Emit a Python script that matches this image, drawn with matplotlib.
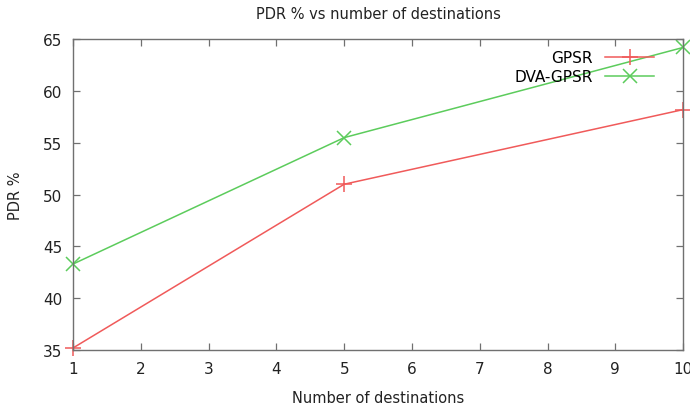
import matplotlib

matplotlib.use("Agg")
import matplotlib.pyplot as plt  # noqa: E402

# values
destinations = [1, 5, 10]
gpsr = [35.2, 51.0, 58.2]
dva_gpsr = [43.3, 55.5, 64.2]
x_ticks = list(range(1, 11))
y_ticks = [35, 40, 45, 50, 55, 60, 65]

plt.rcParams["font.family"] = ["DejaVu Sans"]

fig = plt.figure(figsize=(6.9, 4.1), dpi=100)
ax = fig.add_axes([0.106, 0.144, 0.884, 0.758])

ax.plot(destinations, gpsr, color="#f05a5a", lw=1.1, marker="+", ms=12,
        mew=1.1, label="GPSR", clip_on=False)
ax.plot(destinations, dva_gpsr, color="#5ccc5c", lw=1.1, marker="x", ms=10,
        mew=1.1, label="DVA-GPSR", clip_on=False)

ax.set_xlim(1, 10)
ax.set_ylim(35, 65)
ax.set_xticks(x_ticks)
ax.set_yticks(y_ticks)
ax.tick_params(direction="in", length=5, width=0.9, color="#707070",
               top=True, right=True, labelsize=11, labelcolor="#222222", pad=8)
for s in ax.spines.values():
    s.set_color("#707070")
    s.set_linewidth(1.0)

ax.set_xlabel("Number of destinations", fontsize=10.5, color="#222222", labelpad=10)
ax.set_ylabel("PDR %", fontsize=10.5, color="#222222", labelpad=14)
ax.set_title("PDR % vs number of destinations", fontsize=10.5, color="#222222", pad=15)

ax.legend(loc="upper right", frameon=False, markerfirst=False, fontsize=11,
          handlelength=3.2, borderaxespad=0.3, labelspacing=0.3,
          bbox_to_anchor=(0.97, 1.0))

fig.savefig("out.png", dpi=100)
